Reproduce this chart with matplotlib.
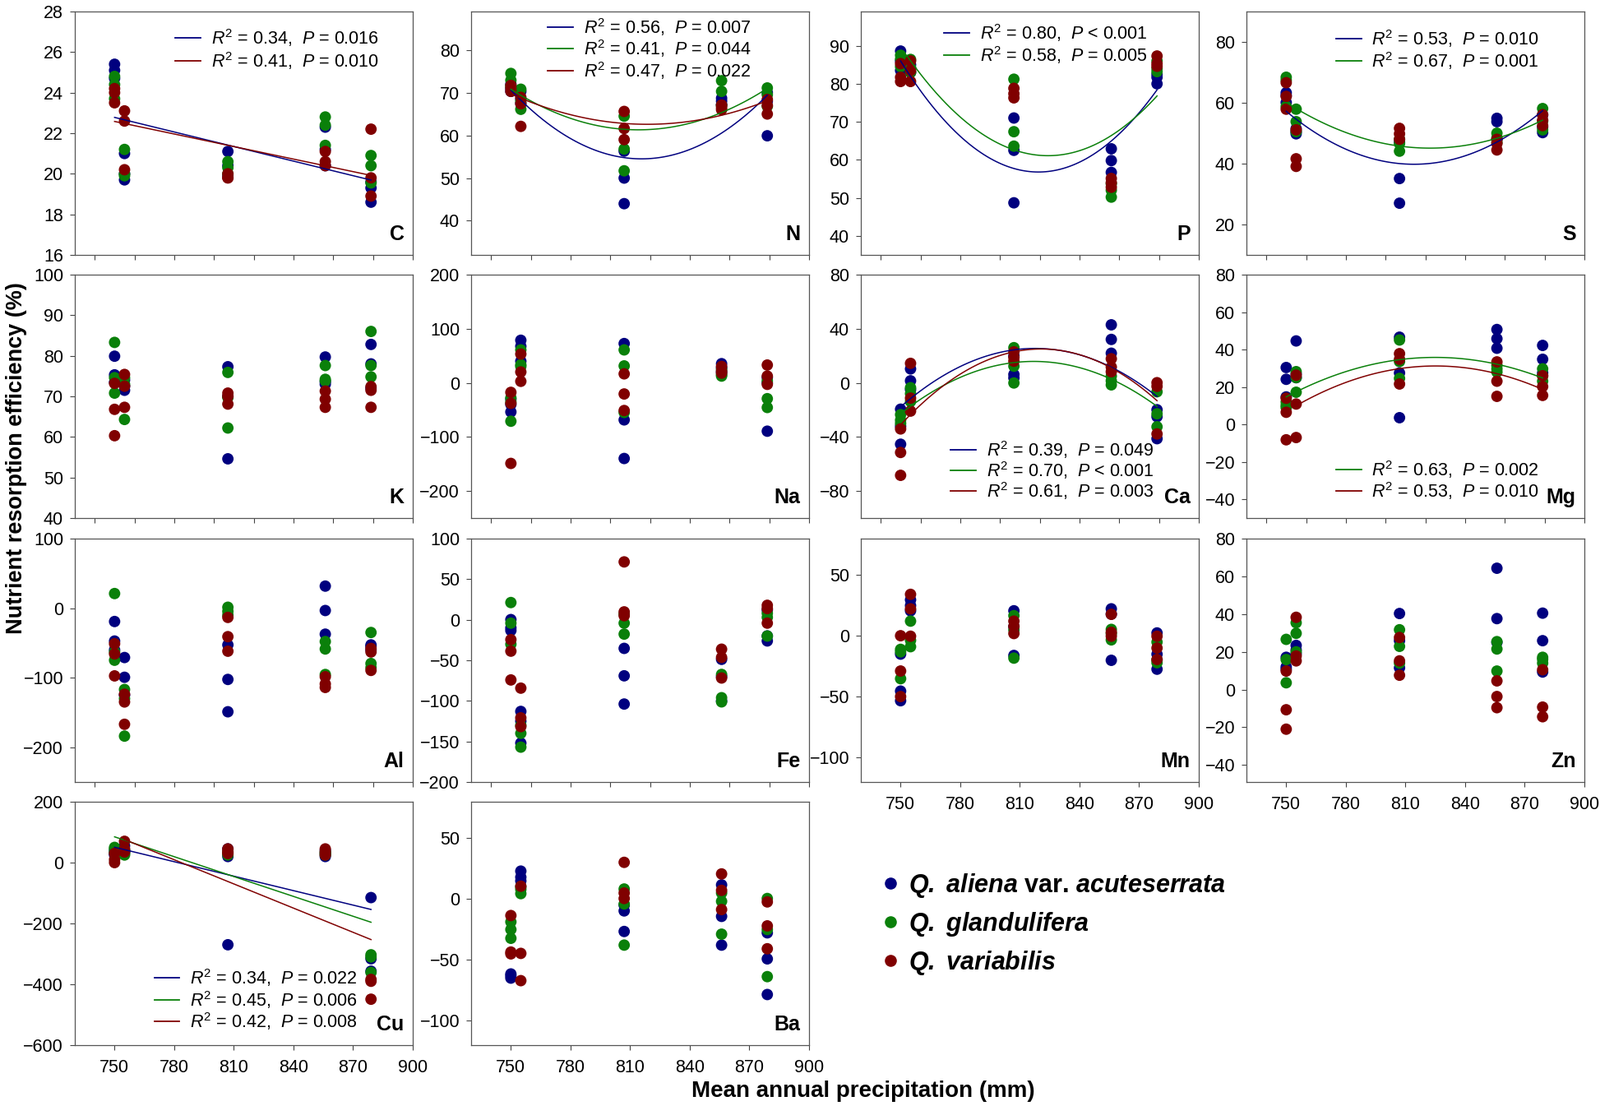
import numpy as np
import matplotlib
matplotlib.use("Agg")
import matplotlib.pyplot as plt
from matplotlib.lines import Line2D

plt.rcParams["font.family"] = "Liberation Sans"
plt.rcParams["mathtext.fontset"] = "custom"
plt.rcParams["mathtext.rm"] = "Liberation Sans"
plt.rcParams["mathtext.it"] = "Liberation Sans:italic"
plt.rcParams["mathtext.bf"] = "Liberation Sans:bold"
plt.rcParams["mathtext.bfit"] = "Liberation Sans:italic:bold"

# --------------------------------------------------
# Data: resorption efficiency (%) [species][site][replicate]
# --------------------------------------------------
sites = [750, 755, 807, 856, 879]
species = [r"$\mathbfit{Q.}$ $\mathbfit{aliena}$ var. $\mathbfit{acuteserrata}$",
           r"$\mathbfit{Q.}$ $\mathbfit{glandulifera}$",
           r"$\mathbfit{Q.}$ $\mathbfit{variabilis}$"]
colors = ["#00007f", "#0a800a", "#800000"]

C_eff = [
    [[25.4, 25.1, 24.7], [21.0, 19.7, 20.0], [21.1, 20.4, 19.9], [22.3, 21.2, 20.4], [19.3, 18.6, 19.6]],
    [[24.8, 24.4, 23.7], [21.2, 19.9, 20.0], [20.6, 20.3, 20.0], [22.8, 22.4, 21.4], [20.9, 20.4, 19.55]],
    [[24.2, 24.0, 23.5], [23.1, 22.6, 20.2], [20.0, 19.8, 19.8], [21.1, 20.6, 20.4], [22.2, 19.8, 18.9]],
]
N_eff = [
    [[72.0, 71.0, 70.3], [70.3, 68.5, 67.5], [56.3, 50.0, 44.0], [68.7, 68.0, 67.2], [70.0, 68.0, 59.9]],
    [[74.5, 72.9, 71.5], [70.8, 68.0, 66.1], [64.5, 56.8, 51.7], [72.8, 70.3, 67.0], [71.1, 69.5, 66.8]],
    [[71.7, 71.0, 70.3], [68.9, 67.4, 62.1], [65.6, 61.6, 59.0], [67.1, 66.5, 66.0], [68.4, 67.0, 65.0]],
]
P_eff = [
    [[88.6, 86.0, 83.5], [85.0, 84.0, 83.0], [71.0, 62.5, 48.7], [62.9, 59.8, 56.7], [82.5, 81.7, 80.0]],
    [[87.5, 86.5, 84.5], [86.4, 84.2, 83.0], [81.2, 67.4, 63.6], [53.7, 50.2, 52.0], [86.0, 84.0, 83.2]],
    [[85.3, 81.7, 80.6], [86.0, 83.5, 80.6], [78.8, 77.4, 76.3], [55.1, 52.8, 54.0], [87.3, 85.3, 84.6]],
]
S_eff = [
    [[63.3, 62.4, 60.1], [51.5, 50.5, 49.8], [47.0, 35.1, 27.0], [54.9, 53.8, 48.0], [56.0, 52.0, 50.2]],
    [[68.4, 67.4, 58.8], [57.9, 53.8, 50.5], [48.0, 46.6, 44.1], [50.0, 48.4, 47.0], [58.1, 54.0, 51.1]],
    [[66.6, 62.1, 57.9], [51.1, 41.6, 39.1], [51.6, 49.8, 48.0], [48.0, 46.6, 44.5], [56.1, 54.3, 52.5]],
]
K_eff = [
    [[79.9, 75.3, 73.5], [74.0, 72.5, 71.5], [77.3, 70.0, 54.6], [79.7, 73.6, 73.0], [82.8, 78.0, 72.0]],
    [[83.3, 74.6, 70.8], [74.6, 73.0, 64.3], [75.9, 69.7, 62.2], [77.6, 74.2, 73.8], [86.0, 77.6, 74.8]],
    [[73.2, 66.8, 60.3], [75.4, 72.5, 67.3], [70.8, 70.0, 68.1], [71.3, 69.3, 67.3], [72.4, 71.5, 67.3]],
]
Na_eff = [
    [[-40, -53.8, -30], [78.7, 67.5, 40], [72.6, -68.5, -139.9], [35.4, 28.0, 20.0], [10, 0, -89.4]],
    [[-27.8, -71, -35], [60.9, 33.4, 30.3], [60.9, 31.3, -54.8], [25.0, 15.0, 12.5], [3.8, -29.3, -45.6]],
    [[-17.6, -38, -149], [53.2, 20.1, 2.8], [16.6, -20.6, -51.2], [30.3, 21.7, 18.0], [32.9, 12.5, -2.8]],
]
Ca_eff = [
    [[-19.5, -32.1, -45.4], [10.3, 1.5, -5], [20, 6.2, 3.6], [42.9, 32.1, 21.9], [-19.9, -41.3, -25]],
    [[-23.5, -27.6, -30], [-3.6, -13.8, -8], [26.0, 12.3, -0.1], [1.5, -1.5, 5], [-6.6, -22.9, -32.5]],
    [[-34.1, -51.5, -68.4], [14.4, -11.3, -20.9], [22.9, 18.8, 16.0], [17.8, 11.7, 8.2], [0.1, -2.6, -37.8]],
]
Mg_eff = [
    [[30.4, 24.1, 14.7], [44.6, 27.0, 25.0], [46.6, 27.5, 3.6], [50.7, 45.8, 40.7], [42.2, 34.8, 27.5]],
    [[10.2, 12.0, 9.0], [28.2, 25.0, 17.2], [45.1, 33.6, 24.6], [31.5, 29.7, 28.0], [29.7, 26.0, 23.1]],
    [[14.0, 6.5, -8.2], [26.3, 10.9, -7.0], [37.8, 34.8, 21.6], [33.4, 23.1, 15.0], [26.0, 20.2, 15.5]],
]
Al_eff = [
    [[-19.2, -47.3, -60], [-71, -99.4, -125], [-52.8, -102.5, -149], [31.7, -3.4, -37.4], [-52.8, -60, -55]],
    [[21.0, -63.0, -74.9], [-117, -130, -184], [1.3, -4.6, -10], [-48, -58.7, -95.4], [-35, -79.6, -85.5]],
    [[-51.2, -65.8, -97.4], [-123.8, -134.9, -167], [-13.3, -41, -61.9], [-98.6, -109, -114], [-57.9, -63, -89.5]],
]
Fe_eff = [
    [[0.2, -13.3, -10], [-113, -152, -125], [-35.3, -69.1, -103.9], [-48.8, -70, -100], [12.1, -26.1, -20]],
    [[21.2, -4.2, -30.2], [-140, -157, -130], [7, -4.2, -17.7], [-67.4, -96.1, -101.2], [2.9, -20.1, 8]],
    [[-24.5, -38.7, -74.2], [-84.3, -120.9, -131.7], [71.3, 9.7, 5], [-36.3, -46.4, -71.8], [17.8, 13.8, -4.2]],
]
Mn_eff = [
    [[-14.9, -45.3, -53.2], [29.7, 20.7, 25], [20.7, 7.7, -16], [22.3, 18, -20], [2.5, -27.3, -15]],
    [[-11, -35.1, -13], [12.2, -3.6, -8.8], [16.7, 5, -18.2], [5.4, -3.2, 2], [-19.8, -5, -22]],
    [[0.2, -28.8, -49.8], [34.2, 22.3, -0.2], [12.2, 2.0, 8], [17.8, -0.2, 3], [-0.2, -9.9, -19.3]],
]
Zn_eff = [
    [[17.1, 10.8, 12], [23.4, 19.0, 21], [40.3, 25.9, 11.5], [64.3, 37.6, 25], [40.5, 25.9, 9.3]],
    [[26.6, 15.9, 3.6], [35.4, 29.8, 20], [31.7, 14.0, 22.9], [25.4, 21.5, 9.8], [17.1, 14, 16]],
    [[9.8, -10.7, -21], [38.3, 17.8, 15.2], [27.6, 15.2, 7.6], [4.6, -3.7, -9.6], [10.5, -9.3, -14.4]],
]
Cu_eff = [
    [[40, 30, 25], [55, 40, 35], [45, 20, -270], [40, 30, 20], [-115, -316, -357]],
    [[50, 45, 35], [40, 30, 25], [35, 30, 25], [35, 30, 25], [-303, -361, -310]],
    [[0, 10, 30], [70, 45, 35], [45, 35, 30], [45, 35, 25], [-384, -449, -390]],
]
Ba_eff = [
    [[-61.5, -64.9, -63], [23, 15, 18], [-9.7, -26.6, -5], [11.7, -14.2, -37.8], [-27.7, -49.1, -78.4]],
    [[-18.7, -32.2, -25], [4.5, 8, 10], [8.3, -4, -37.8], [-1.8, -28.8, 5], [0.5, -63.7, -25]],
    [[-13.5, -43.5, -45], [10.6, -44.6, -67], [30.2, 5, 0.5], [20.7, 7.2, -8.6], [-2.3, -22, -40.8]],
]

# fitted regression curves: (x, y) at start, middle, end
C_fit = [[(750, 22.78), (879, 19.69)], None, [(750, 22.58), (879, 19.92)]]
N_fit = [[(750, 70.6), (815, 54.5), (879, 69.4)],
         [(750, 70.8), (813, 61.3), (879, 71.0)],
         [(750, 69.7), (816, 62.6), (879, 68.1)]]
P_fit = [[(750, 86.0), (819, 56.8), (879, 78.4)],
         [(753, 87.5), (823, 61.1), (879, 76.8)], None]
S_fit = [[(750, 57.2), (815, 39.8), (879, 57.4)],
         [(750, 60.1), (823, 45.1), (879, 54.3)], None]
Ca_fit = [[(750, -17.8), (820, 25.4), (879, -10.1)],
          [(750, -22.9), (815, 15.8), (879, -17.4)],
          [(750, -31.1), (822, 25.0), (879, -13.2)]]
Mg_fit = [None,
          [(750, 14.7), (824, 35.8), (879, 24.8)],
          [(755, 10.0), (823, 31.2), (879, 18.7)]]
Cu_fit = [[(750, 50.5), (879, -154)], [(750, 84.7), (879, -196)], [(755, 75.7), (879, -253)]]

C_stat = ["0.34,  $P$ = 0.016", None, "0.41,  $P$ = 0.010"]
N_stat = ["0.56,  $P$ = 0.007", "0.41,  $P$ = 0.044", "0.47,  $P$ = 0.022"]
P_stat = ["0.80,  $P$ < 0.001", "0.58,  $P$ = 0.005", None]
S_stat = ["0.53,  $P$ = 0.010", "0.67,  $P$ = 0.001", None]
Ca_stat = ["0.39,  $P$ = 0.049", "0.70,  $P$ < 0.001", "0.61,  $P$ = 0.003"]
Mg_stat = [None, "0.63,  $P$ = 0.002", "0.53,  $P$ = 0.010"]
Cu_stat = ["0.34,  $P$ = 0.022", "0.45,  $P$ = 0.006", "0.42,  $P$ = 0.008"]

# --------------------------------------------------
# Panel layout (name, data, fit, stats, ylim, yticks, row, col, legend x, legend y, row step)
# --------------------------------------------------
panels = [
    ("C", C_eff, C_fit, C_stat, (16, 28), range(16, 29, 2), 0, 0, 0.298, 0.892, 0.095),
    ("N", N_eff, N_fit, N_stat, (32, 89), range(40, 81, 10), 0, 1, 0.227, 0.936, 0.089),
    ("P", P_eff, P_fit, P_stat, (35, 99), range(40, 91, 10), 0, 2, 0.246, 0.912, 0.092),
    ("S", S_eff, S_fit, S_stat, (10, 90), range(20, 81, 20), 0, 3, 0.265, 0.888, 0.091),
    ("K", K_eff, None, None, (40, 100), range(40, 101, 10), 1, 0, 0, 0, 0),
    ("Na", Na_eff, None, None, (-250, 200), range(-200, 201, 100), 1, 1, 0, 0, 0),
    ("Ca", Ca_eff, Ca_fit, Ca_stat, (-100, 80), range(-80, 81, 40), 1, 2, 0.266, 0.280, 0.085),
    ("Mg", Mg_eff, Mg_fit, Mg_stat, (-50, 80), range(-40, 81, 20), 1, 3, 0.265, 0.199, 0.088),
    ("Al", Al_eff, None, None, (-250, 100), range(-200, 101, 100), 2, 0, 0, 0, 0),
    ("Fe", Fe_eff, None, None, (-200, 100), range(-200, 101, 50), 2, 1, 0, 0, 0),
    ("Mn", Mn_eff, None, None, (-120, 80), range(-100, 51, 50), 2, 2, 0, 0, 0),
    ("Zn", Zn_eff, None, None, (-49, 80), range(-40, 81, 20), 2, 3, 0, 0, 0),
    ("Cu", Cu_eff, Cu_fit, Cu_stat, (-600, 200), range(-600, 201, 200), 3, 0, 0.235, 0.276, 0.089),
    ("Ba", Ba_eff, None, None, (-120, 80), range(-100, 51, 50), 3, 1, 0, 0, 0),
]
labelled_x = ["Mn", "Zn", "Cu", "Ba"]

W, H = 1946, 1345
col_left = [91, 573, 1047, 1516]
row_top = [14, 334, 655, 975]
ax_w, ax_h = 411, 296

fig = plt.figure(figsize=(W / 100, H / 100), dpi=100)

for name, data, fit, stat, ylim, yticks, r, c, lx, ly, lstep in panels:
    ax = fig.add_axes([col_left[c] / W, 1 - (row_top[r] + ax_h) / H, ax_w / W, ax_h / H])
    for k in range(3):
        xs = np.repeat(sites, [len(v) for v in data[k]])
        ys = np.concatenate(data[k])
        ax.scatter(xs, ys, s=100, color=colors[k], edgecolors="none", zorder=3)
    if fit is not None:
        row = 0
        for k in range(3):
            if fit[k] is None:
                continue
            fx = np.array([p[0] for p in fit[k]], dtype=float)
            fy = np.array([p[1] for p in fit[k]], dtype=float)
            coef = np.polyfit(fx, fy, len(fx) - 1)
            xx = np.linspace(fx[0], fx[-1], 100)
            ax.plot(xx, np.polyval(coef, xx), color=colors[k], lw=1.1, zorder=4)
            yy = ly - row * lstep
            ax.plot([lx, lx + 0.075], [yy, yy], color=colors[k], lw=1.3,
                    transform=ax.transAxes, zorder=5)
            ax.text(lx + 0.106, yy, "$R^2$ = " + stat[k], transform=ax.transAxes,
                    fontsize=15.5, va="center", ha="left", zorder=5)
            row += 1
    ax.set_xlim(730, 900)
    ax.set_ylim(*ylim)
    ax.set_yticks(list(yticks))
    if name in labelled_x:
        ax.set_xticks(range(750, 901, 30))
    else:
        ax.set_xticks(range(740, 901, 20))
        ax.set_xticklabels([])
    ax.tick_params(direction="out", length=4, width=0.8, color="#444444",
                   labelsize=15.5, top=False, right=False)
    ax.tick_params(axis="x", pad=8)
    ax.tick_params(axis="y", pad=6)
    for sp in ax.spines.values():
        sp.set_color("#555555")
        sp.set_linewidth(0.9)
    ax.text(0.975, 0.045, name, transform=ax.transAxes, ha="right", va="bottom",
            fontsize=18, fontweight="bold", zorder=6)

handles = [Line2D([], [], ls="none", marker="o", markersize=10.5, color=c, markeredgewidth=0)
           for c in colors]
fig.legend(handles, species, loc="upper left", bbox_to_anchor=(1074 / W, 1 - 1060 / H),
           frameon=False, prop={"weight": "bold", "size": 22}, handlelength=0.6,
           handletextpad=0.4, labelspacing=0.42, borderaxespad=0, borderpad=0)

fig.text(20 / W, 1 - 557 / H, "Nutrient resorption efficiency (%)", rotation=90,
         ha="center", va="center", fontsize=19.5, fontweight="bold")
fig.text(1050 / W, 1 - 1327 / H, "Mean annual precipitation (mm)",
         ha="center", va="center", fontsize=20, fontweight="bold")

fig.savefig("out.png", dpi=100, facecolor="white")
